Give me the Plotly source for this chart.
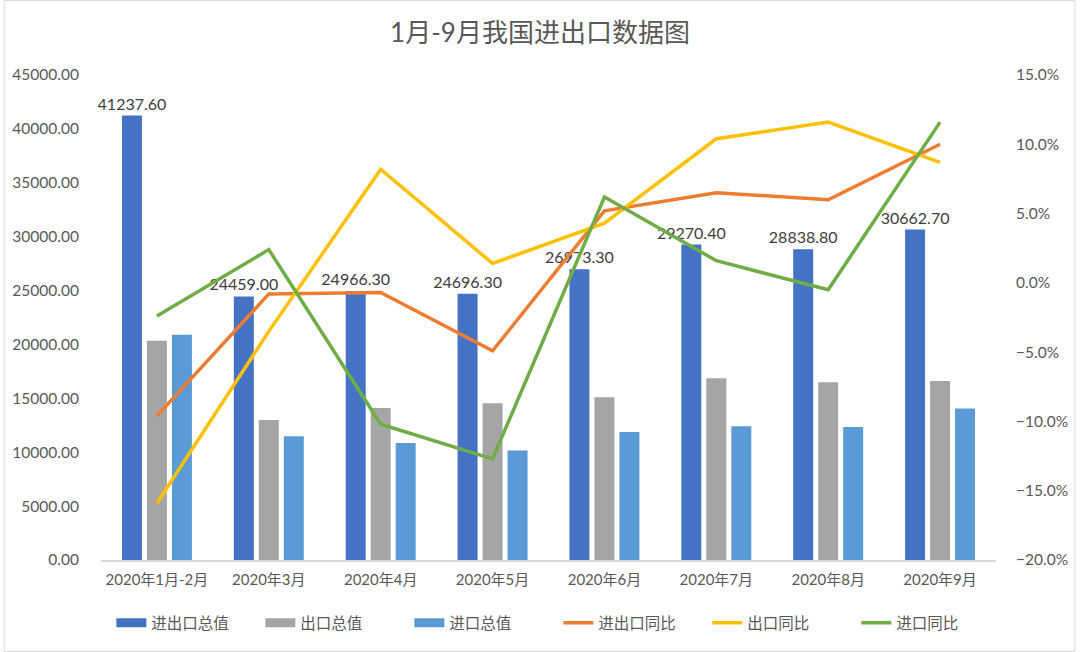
import plotly.graph_objects as go

categories = ["2020年1月-2月", "2020年3月", "2020年4月", "2020年5月",
              "2020年6月", "2020年7月", "2020年8月", "2020年9月"]
total_value = [41237.6, 24459.0, 24966.3, 24696.3, 26973.3, 29270.4, 28838.8, 30662.7]
export_value = [20334.1, 12980.0, 14100.0, 14547.9, 15100.0, 16860.0, 16490.0, 16600.0]
import_value = [20903.5, 11479.0, 10866.3, 10148.4, 11873.3, 12410.4, 12348.8, 14062.7]
total_yoy = [-9.6, -0.8, -0.7, -4.9, 5.2, 6.5, 6.0, 10.0]
export_yoy = [-15.9, -3.5, 8.2, 1.4, 4.3, 10.4, 11.6, 8.7]
import_yoy = [-2.4, 2.4, -10.2, -12.7, 6.2, 1.6, -0.5, 11.6]

bar_names = ["进出口总值", "出口总值", "进口总值"]
bar_colors = ["#4472C4", "#A5A5A5", "#5B9BD5"]
line_names = ["进出口同比", "出口同比", "进口同比"]
line_colors = ["#ED7D31", "#FFC000", "#70AD47"]

FONT = "Lato, 'Noto Sans CJK SC', sans-serif"
TXT = "#595959"

fig = go.Figure()
for vals, nm, col in zip([total_value, export_value, import_value], bar_names, bar_colors):
    kw = {}
    if nm == "进出口总值":
        kw = dict(text=[f"{v:.2f}" for v in vals], textposition="outside",
                  textfont=dict(size=16, color="#404040", family=FONT),
                  constraintext="none", cliponaxis=False)
    fig.add_bar(x=categories, y=vals, name=nm, marker_color=col, showlegend=False,
                marker_line_width=0, **kw)

# legend entries for bars (wide rectangles like the reference)
for nm, col in zip(bar_names, bar_colors):
    fig.add_scatter(x=[None], y=[None], mode="lines", name=nm,
                    line=dict(color=col, width=9))

for vals, nm, col in zip([total_yoy, export_yoy, import_yoy], line_names, line_colors):
    fig.add_scatter(x=categories, y=vals, name=nm, mode="lines",
                    line=dict(color=col, width=3.5), yaxis="y2")

fig.update_layout(
    width=1080, height=652,
    margin=dict(l=98, r=80, t=75, b=92),
    paper_bgcolor="white", plot_bgcolor="white",
    font=dict(family=FONT, color=TXT, size=15),
    title=dict(text="1月-9月我国进出口数据图", x=0.5, xanchor="center", y=0.949, yanchor="middle",
               font=dict(size=26, color=TXT, family=FONT)),
    barmode="group", bargap=0.33, bargroupgap=0.2,
    showlegend=True,
    legend=dict(orientation="h", x=0.511, xanchor="center", y=-0.095, yanchor="top",
                font=dict(size=15.5, color=TXT, family=FONT), itemwidth=30,
                entrywidth=104, tracegroupgap=0),
    xaxis=dict(showgrid=False, showline=True, linecolor="#D9D9D9", linewidth=1.5,
               tickfont=dict(size=15, color=TXT), ticks="outside", ticklen=5,
               tickcolor="rgba(0,0,0,0)"),
    yaxis=dict(range=[0, 45000], dtick=5000, tickformat=".2f", showgrid=False,
               zeroline=False, showline=False, ticks="outside", ticklen=18,
               tickcolor="rgba(0,0,0,0)", tickfont=dict(size=15.5, color=TXT)),
    yaxis2=dict(range=[-20, 15], dtick=5, tickformat=".1f", ticksuffix="%",
                overlaying="y", side="right", showgrid=False, zeroline=False,
                showline=False, ticks="outside", ticklen=16,
                tickcolor="rgba(0,0,0,0)", tickfont=dict(size=15.5, color=TXT)),
)
pw, ph = 1080 - 98 - 80, 652 - 75 - 92
fig.add_shape(type="rect", xref="paper", yref="paper",
              x0=-97.5 / pw, x1=1 + 79.5 / pw, y0=-91.5 / ph, y1=1 + 74.5 / ph,
              line=dict(color="#D9D9D9", width=1))
fig.write_html("out.html", config={"displayModeBar": False},
               post_script="document.body.style.margin='0';")
